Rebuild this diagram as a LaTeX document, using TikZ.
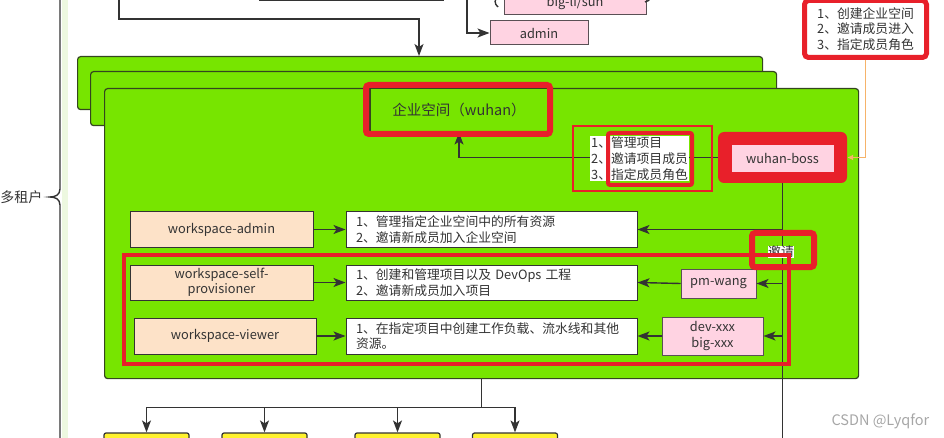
\documentclass[tikz,border=0pt]{standalone}
\usepackage{fontspec}
\setmainfont{Noto Sans CJK SC}
\usepackage{xcolor}
\usepackage{tikz}
\usetikzlibrary{arrows.meta}
\definecolor{ink}{HTML}{333333}
\definecolor{leaf}{HTML}{77E500}
\definecolor{leafEdge}{HTML}{34461F}
\definecolor{rose}{HTML}{FFD3E2}
\definecolor{roseEdge}{HTML}{5A5055}
\definecolor{beige}{HTML}{FDE2C8}
\definecolor{alert}{HTML}{E8202A}
\definecolor{peach}{HTML}{F6B36A}
\definecolor{lemon}{HTML}{FFF22E}
\definecolor{mint}{HTML}{EDF8E0}
\tikzset{
  lab/.style={text=ink, font=\fontsize{12.8}{15.5}\selectfont},
  wire/.style={draw=ink, line width=1.4pt},
  arr/.style={wire, -{Stealth[length=12pt,width=9pt,inset=3pt]}},
  leafBox/.style={draw=leafEdge, fill=leaf, line width=1.2pt, rounded corners=3pt},
  roleBox/.style={lab, draw=ink, fill=beige, line width=1pt, minimum width=183, minimum height=35, align=center, inner sep=1pt},
  descBox/.style={lab, draw=ink, fill=white, line width=1pt, text width=271pt, inner xsep=10pt, inner ysep=2pt, minimum height=35, align=left},
  userBox/.style={lab, draw=roseEdge, fill=rose, line width=1pt, align=center, inner sep=1pt},
  markThick/.style={draw=alert, line width=6pt, rounded corners=3pt},
  markThin/.style={draw=alert, line width=4pt},
  projBox/.style={draw=ink, fill=lemon, line width=1.2pt, rounded corners=2pt, minimum width=85, minimum height=34}
}

\begin{document}
\begin{tikzpicture}[x=1pt, y=-1pt]
\useasboundingbox (0,0) rectangle (944,438);
\clip (0,0) rectangle (944,438);

% tenant brace on the left
\fill[mint] (62,0) rectangle (68,438);
\draw[wire] (60,0) -- (60,189) .. controls (60,195) and (55,197) .. (50,197)
  .. controls (55,197) and (60,199) .. (60,205) -- (60,438);
\node[lab, anchor=east, font=\fontsize{14}{16}\selectfont] (tenant) at (46,197) {多租户};

% nodes cut off at the top
\node[roleBox, minimum width=184, minimum height=24] (topRole) at (351,-11) {};
\node[userBox, minimum width=142, minimum height=24] (bigLi) at (575,3) {big-li/sun};
\node[userBox, minimum width=98, minimum height=24] (admin) at (539,33) {admin};
\draw[wire] (499,-5) .. controls (494,-1) and (494,4) .. (498,7);
\draw[wire] (645,2) .. controls (648,2) and (650,0) .. (650,-4);
\coordinate (adminIn) at (467,0);
\coordinate (wsIn) at (119,0);
\draw[arr] (adminIn) |- (admin.west);

% stacked workspaces
\node[leafBox, anchor=north west, minimum width=685, minimum height=53] (ws1) at (77,56) {};
\node[leafBox, anchor=north west, minimum width=686, minimum height=54] (ws2) at (90,71) {};
\node[leafBox, anchor=north west, minimum width=754, minimum height=290] (ws3) at (104,88) {};
\path (ws1.north west) ++(342,0) coordinate (wsTop);
\draw[arr] (wsIn) -- ++(0,19) -| (wsTop);

% workspace owner
\node[leafBox, rounded corners=0pt, minimum width=178, minimum height=44, text=ink,
  font=\fontsize{14.5}{16}\selectfont] (ent) at (459,110) {企业空间（wuhan）};
\node[fill=alert, rounded corners=6pt, minimum width=129, minimum height=51, inner sep=0pt] (bossMark) at (782.5,157.5) {};
\node[userBox, draw=none, minimum width=102, minimum height=27] (boss) at (782.5,158.5) {wuhan-boss};
\draw[arr] (bossMark.west) -| (ent.south);
\node[lab, fill=white, align=left, inner sep=1pt, font=\fontsize{12.8}{16}\selectfont] (bossDuty) at (639.5,158.5)
  {1、管理项目\\2、邀请项目成员\\3、指定成员角色};
\draw[markThick] (366,85) rectangle (550,134);
\draw[alert, line width=2pt] (573,126) rectangle (712,191);
\draw[markThin, rounded corners=2pt] (608,133) rectangle (692,185);

% platform admin note
\node[lab, fill=white, draw=alert, line width=5pt, rounded corners=4pt, align=left,
  minimum width=122, minimum height=57] (createNote) at (865.5,29)
  {1、创建企业空间\\2、邀请成员进入\\3、指定成员角色};
\draw[peach, line width=1.5pt, -{Latex[length=6pt,width=6pt]}] (createNote.south) |- (bossMark.east);

% roles
\node[roleBox] (wsAdmin) at (221.5,229.5) {workspace-admin};
\node[roleBox] (wsSelf) at (221.5,282.5) {workspace-self-\\provisioner};
\node[roleBox, minimum width=182, minimum height=36] (wsViewer) at (225,336) {workspace-viewer};
\node[descBox] (desc1) at (491.5,229.5) {1、管理指定企业空间中的所有资源\\2、邀请新成员加入企业空间};
\node[descBox] (desc2) at (491.5,282.5) {1、创建和管理项目以及 DevOps 工程\\2、邀请新成员加入项目};
\node[descBox, minimum height=36] (desc3) at (491.5,336) {1、在指定项目中创建工作负载、流水线和其他\\资源。};
\node[userBox, minimum width=75, minimum height=29] (pmWang) at (718.5,283.5) {pm-wang};
\node[userBox, minimum width=101, minimum height=38] (devBig) at (712.5,336) {dev-xxx\\big-xxx};
\draw[arr] (wsAdmin) -- (desc1);
\draw[arr] (wsSelf) -- (desc2);
\draw[arr] (wsViewer) -- (desc3);

% invite trunk
\coordinate (trunkEnd) at (782.5,438);
\draw[wire] (bossMark.south) -- (trunkEnd);
\draw[arr] (bossMark.south |- desc1.east) -- (desc1.east);
\draw[arr] (bossMark.south |- pmWang.east) -- (pmWang.east);
\draw[arr] (bossMark.south |- devBig.east) -- (devBig.east);
\draw[arr] (pmWang.west) -- (desc2.east);
\draw[arr] (devBig.west) -- (desc3.east);
\node[lab, fill=white, inner sep=0.5pt] (invite) at (781,252) {邀请};
\draw[markThick] (752,233) rectangle (814,267);
\draw[markThin] (124,255) rectangle (789,364);

% projects below
\foreach \i/\cx in {1/146.5, 2/264.5, 3/397.5, 4/515}
  \node[projBox] (proj\i) at (\cx,450) {};
\draw[wire] (ws3.south) -- ++(0,28) coordinate (bus);
\foreach \i in {1,...,4}
  \draw[arr] (bus) -| (proj\i.north);

\node[anchor=west, text=gray!70, font=\fontsize{14.5}{14.5}\selectfont] (csdn) at (828,421) {CSDN @Lyqfor};
\end{tikzpicture}
\end{document}
